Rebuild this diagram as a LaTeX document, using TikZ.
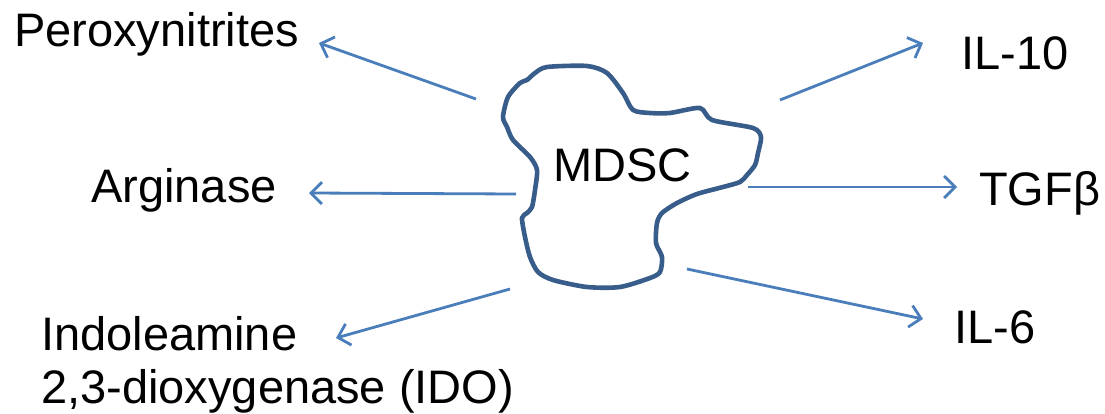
\documentclass[tikz,border=0pt]{standalone}
\usepackage{fontspec}
\setmainfont{Liberation Sans}
\usetikzlibrary{arrows.meta}

\definecolor{cellblue}{HTML}{385D8A}
\definecolor{arrowblue}{HTML}{4A7EBB}

\begin{document}
\begin{tikzpicture}[x=1pt,y=-1pt,
    lbl/.style={anchor=base west,inner sep=0pt,font=\fontsize{47}{53}\selectfont},
    secretes/.style={draw=arrowblue,line width=2.8pt,-{Straight Barb[length=11pt,width=22pt,line width=2.8pt]}}]
          \useasboundingbox (0,0) rectangle (1105,414);

          % the cell
          \draw[cellblue,line width=4.6pt,line join=round] plot[smooth cycle,tension=0.45] coordinates {
            (535,73) (547,67) (587,66) (607,73) (623,93) (633,110) (650,113)
            (670,113) (700,108) (712,120) (753,128) (761,137) (758,153) (755,165)
            (747,175) (740,182) (723,187) (697,194) (677,203) (662,213) (657,223)
            (656,243) (662,257) (660,272) (650,278) (620,287) (587,287) (553,280)
            (538,272) (530,257) (525,237) (522,218) (527,213) (532,207) (535,190)
            (537,170) (530,157) (513,140) (507,127) (503,117) (508,97) (520,83) (527,80)};
          \node[lbl] (mdsc) at (553,182) {MDSC};

          \node[lbl] (per) at (14,47) {Peroxynitrites};
          \node[lbl] (arg) at (91,203) {Arginase};
          \node[lbl] (ido) at (41,350) {Indoleamine};
          \node[lbl] (ido2) at (41,403) {2,3-dioxygenase (IDO)};
          \node[lbl] (il10) at (961,70) {IL-10};
          \node[lbl] (tgf) at (979,205) {TGFβ};
          \node[lbl] (il6) at (954,343) {IL-6};

          \coordinate (A) at (476,99);
          \coordinate (A') at (319,43);
          \coordinate (B) at (516,194);
          \coordinate (B') at (309,193);
          \coordinate (C) at (510,289);
          \coordinate (C') at (336,338);
          \coordinate (D) at (780,100);
          \coordinate (D') at (923,43);
          \coordinate (E) at (748,187);
          \coordinate (E') at (957,187);
          \coordinate (F) at (687,269);
          \coordinate (F') at (923,319);

          \draw[secretes] (A)--(A');
          \draw[secretes] (B)--(B');
          \draw[secretes] (C)--(C');
          \draw[secretes] (D)--(D');
          \draw[secretes] (E)--(E');
          \draw[secretes] (F)--(F');
        \end{tikzpicture}
\end{document}
